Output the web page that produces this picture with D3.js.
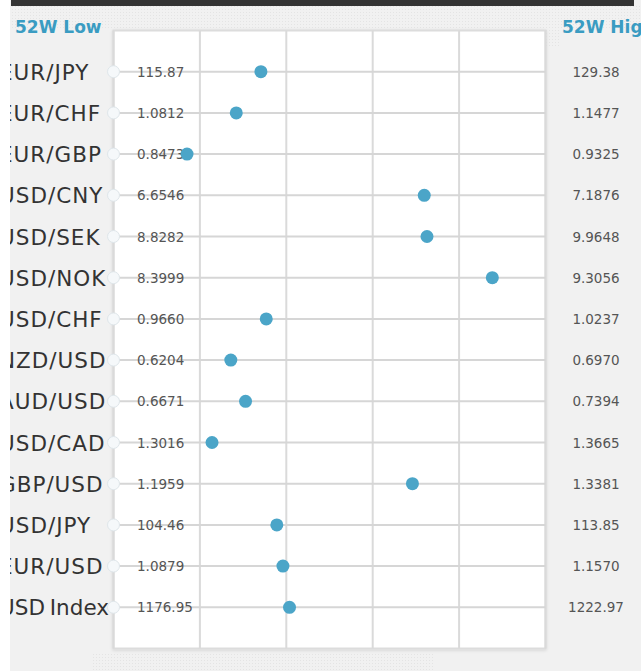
<!DOCTYPE html>
<html>
<head>
<meta charset="utf-8">
<script src="https://cdn.jsdelivr.net/npm/d3@7"></script>
<style>
  html, body { margin: 0; padding: 0; background: #fff; }
  svg { display: block; }
</style>
</head>
<body>
<div class="container"></div>
<script>
const WIDTH = 641;
const HEIGHT = 671;

const PLOT_LEFT = 113.5;
const PLOT_RIGHT = 545.5;
const PLOT_TOP = 30.5;
const PLOT_BOTTOM = 648.5;

const FONT = '"DejaVu Sans", sans-serif';

// data
var pairs = ['EUR/JPY', 'EUR/CHF', 'EUR/GBP', 'USD/CNY', 'USD/SEK', 'USD/NOK', 'USD/CHF',
    'NZD/USD', 'AUD/USD', 'USD/CAD', 'GBP/USD', 'USD/JPY', 'EUR/USD', 'USD Index'];
var lows = [115.87, 1.0812, 0.8473, 6.6546, 8.8282, 8.3999, 0.9660,
    0.6204, 0.6671, 1.3016, 1.1959, 104.46, 1.0879, 1176.95];
var highs = [129.38, 1.1477, 0.9325, 7.1876, 9.9648, 9.3056, 1.0237,
    0.6970, 0.7394, 1.3665, 1.3381, 113.85, 1.1570, 1222.97];
var current = [120.48, 1.1001, 0.8618, 7.0380, 9.6530, 9.1941, 0.9864,
    0.6412, 0.6892, 1.3164, 1.2943, 108.01, 1.1150, 1195.70];
var decimals = [2, 4, 4, 4, 4, 4, 4, 4, 4, 4, 4, 2, 4, 2];
var gridTicks = [0, 0.2, 0.4, 0.6, 0.8, 1];

var _svg, _root;

var _yScale = d3.scalePoint()
    .domain(pairs)
    .range([PLOT_TOP, PLOT_BOTTOM])
    .padding(1);

var _gridScale = d3.scaleLinear()
    .domain([0, 1])
    .range([PLOT_LEFT, PLOT_RIGHT]);

var createSvg = function () {
    _svg = d3.select('.container').append('svg').attr('width', WIDTH).attr('height', HEIGHT);

    var defs = _svg.append('defs');
    defs.append('clipPath').attr('id', 'clip')
        .append('rect').attr('x', 10).attr('y', 0).attr('width', WIDTH - 10).attr('height', HEIGHT);

    var pat = defs.append('pattern').attr('id', 'dots')
        .attr('width', 3).attr('height', 3).attr('patternUnits', 'userSpaceOnUse');
    pat.append('rect').attr('width', 3).attr('height', 3).attr('fill', '#f1f1f1');
    pat.append('rect').attr('width', 1).attr('height', 1).attr('fill', '#e4e4e4');

    var f = defs.append('filter').attr('id', 'shadow').attr('x', '-5%').attr('y', '-5%')
        .attr('width', '110%').attr('height', '110%');
    f.append('feDropShadow').attr('dx', 0).attr('dy', 1).attr('stdDeviation', 1.5)
        .attr('flood-color', '#000').attr('flood-opacity', 0.12);

    _root = _svg.append('g').attr('clip-path', 'url(#clip)');
};

var drawBackground = function () {
    _root.append('rect')
        .attr('x', 10).attr('y', 0).attr('width', WIDTH - 10).attr('height', HEIGHT)
        .attr('fill', '#f1f1f1');
    _root.append('rect')
        .attr('x', 10).attr('y', 6).attr('width', WIDTH - 10).attr('height', 24)
        .attr('fill', 'url(#dots)');
    _root.append('rect')
        .attr('x', 92).attr('y', 652).attr('width', 343).attr('height', 19)
        .attr('fill', 'url(#dots)');
    _root.append('rect')
        .attr('x', 546).attr('y', 6).attr('width', 14).attr('height', 40)
        .attr('fill', 'url(#dots)');
    _root.append('rect')
        .attr('x', 11).attr('y', 0).attr('width', 623).attr('height', 6)
        .attr('fill', '#333');
    _root.append('rect')
        .attr('x', PLOT_LEFT).attr('y', PLOT_TOP)
        .attr('width', PLOT_RIGHT - PLOT_LEFT).attr('height', PLOT_BOTTOM - PLOT_TOP)
        .attr('fill', '#fff').attr('stroke', '#dcdcdc').attr('stroke-width', 2)
        .attr('filter', 'url(#shadow)');
};

var drawGrid = function () {
    _root.append('g').selectAll('line')
        .data(gridTicks)
        .enter().append('line')
        .attr('x1', function (d) { return _gridScale(d); })
        .attr('x2', function (d) { return _gridScale(d); })
        .attr('y1', PLOT_TOP).attr('y2', PLOT_BOTTOM)
        .attr('stroke', '#dadada').attr('stroke-width', 2);

    _root.append('g').selectAll('line')
        .data(pairs)
        .enter().append('line')
        .attr('x1', PLOT_LEFT).attr('x2', PLOT_RIGHT)
        .attr('y1', function (d) { return _yScale(d); })
        .attr('y2', function (d) { return _yScale(d); })
        .attr('stroke', '#d6d6d6').attr('stroke-width', 2);
};

var drawRows = function () {
    var rows = _root.append('g').selectAll('g')
        .data(pairs)
        .enter().append('g')
        .attr('transform', function (d) { return 'translate(0,' + _yScale(d) + ')'; });

    // pair names are left aligned and run off the clipped left edge
    rows.append('text')
        .attr('x', -1).attr('y', 8)
        .attr('font-family', FONT)
        .attr('font-size', 21.5)
        .attr('letter-spacing', function (d) { return d.indexOf(' ') < 0 ? 1 : 0; })
        .attr('word-spacing', -2)
        .attr('fill', '#333')
        .text(function (d) { return d; });

    rows.append('circle')
        .attr('cx', PLOT_LEFT).attr('cy', 0).attr('r', 6)
        .attr('fill', '#f5f8fa').attr('stroke', '#dfe6ea').attr('stroke-width', 1);

    rows.append('text')
        .attr('x', 137).attr('y', 5)
        .attr('font-family', FONT)
        .attr('font-size', 13.5)
        .attr('fill', '#555')
        .text(function (d, i) { return lows[i].toFixed(decimals[i]); });

    rows.append('circle')
        .attr('cx', function (d, i) {
            var x = d3.scaleLinear().domain([lows[i], highs[i]]).range([PLOT_LEFT, PLOT_RIGHT]);
            return x(current[i]);
        })
        .attr('cy', 0).attr('r', 6.5)
        .attr('fill', '#4ba5c8');

    rows.append('text')
        .attr('x', 596).attr('y', 5)
        .attr('text-anchor', 'middle')
        .attr('font-family', FONT)
        .attr('font-size', 13.5)
        .attr('fill', '#555')
        .text(function (d, i) { return highs[i].toFixed(decimals[i]); });
};

var drawHeaders = function () {
    _root.append('text')
        .attr('x', 15).attr('y', 33)
        .attr('font-family', FONT).attr('font-weight', 'bold')
        .attr('font-size', 17).attr('fill', '#3a9cc2')
        .text('52W Low');
    _root.append('text')
        .attr('x', 562).attr('y', 33)
        .attr('font-family', FONT).attr('font-weight', 'bold')
        .attr('font-size', 17).attr('fill', '#3a9cc2')
        .text('52W High');
};

createSvg();
drawBackground();
drawGrid();
drawRows();
drawHeaders();
</script>
</body>
</html>
